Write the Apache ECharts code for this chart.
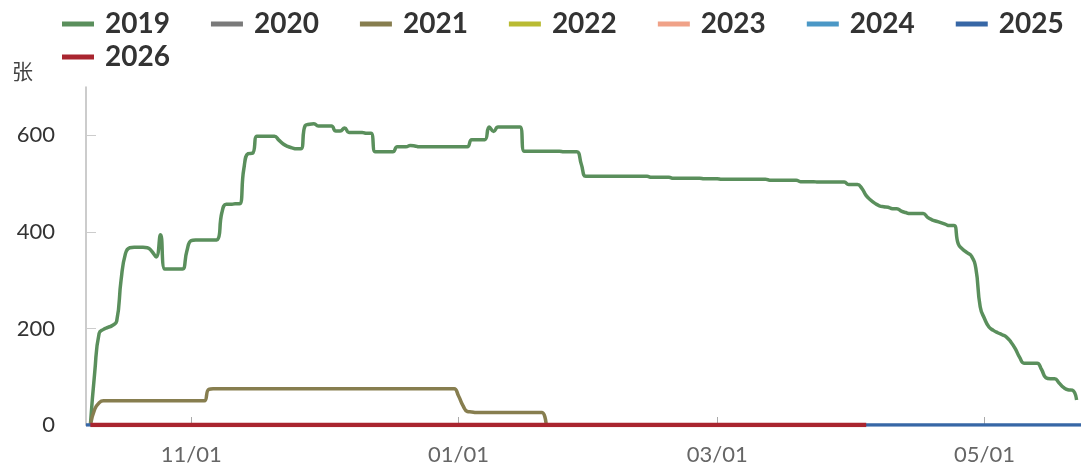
<!DOCTYPE html>
<html>
<head>
	<meta charset="utf-8">
	<title>季节图</title>
	<script type="text/javascript" src="https://cdn.jsdelivr.net/npm/echarts@6/dist/echarts.min.js"></script>
</head>
<body style="margin:0">
<div id="main" style="width: 1081px; height: 474px"></div>

<script type="text/javascript">
// x 轴：10/08 到 05/23 的每一天
var monthList = [10, 11, 12, 1, 2, 3, 4, 5];
var monthDays = [31, 30, 31, 31, 28, 31, 30, 23];
var firstDay = 8;
var tickLabels = ['11/01', '01/01', '03/01', '05/01'];

var days = [];
monthList.forEach(function (m, i) {
    for (var d = (i === 0 ? firstDay : 1); d <= monthDays[i]; d++) {
        days.push((m < 10 ? '0' + m : '' + m) + '/' + (d < 10 ? '0' + d : '' + d));
    }
});

var years = ['2019', '2020', '2021', '2022', '2023', '2024', '2025', '2026'];
var colors = ['#5a8f5c', '#7a7a7a', '#877e4f', '#b9bb33', '#f0a288', '#4b98c6', '#3767a6', '#a9252f'];

// 2019
var s2019 = [
    '-', 0, 110, 190, 198, 202, 206, 215, 300, 355, 367, 368, 368, 368, 367, 360, 348, 394, 323, 323, 323, 323, 323, 360,
    382, 383, 383, 383, 383, 383, 384, 440, 457, 457, 458, 458, 530, 562, 563, 598, 598, 598, 598, 598, 590, 582, 577, 574, 572, 572, 620, 623, 624, 619,
    619, 619, 619, 609, 609, 615, 606, 606, 606, 606, 604, 604, 566, 566, 566, 566, 566, 576, 576, 576, 579, 578, 576, 576, 576, 576, 576, 576, 576, 576, 576,
    576, 576, 576, 591, 591, 591, 591, 617, 608, 617, 617, 617, 617, 617, 617, 567, 567, 567, 567, 567, 567, 567, 567, 567, 566, 566, 566, 566, 540, 515, 515,
    515, 515, 515, 515, 515, 515, 515, 515, 515, 515, 515, 515, 515, 513, 513, 513, 513, 513, 511, 511, 511, 511, 511, 511, 511, 510, 510, 510,
    510, 509, 509, 509, 509, 509, 509, 509, 509, 509, 509, 509, 507, 507, 507, 507, 507, 507, 507, 504, 504, 504, 504, 503, 503, 503, 503, 503, 503, 503, 498,
    498, 498, 490, 475, 466, 459, 454, 452, 451, 448, 448, 443, 440, 438, 438, 438, 438, 430, 425, 422, 419, 416, 413, 413, 375, 364, 357, 350, 325, 245,
    220, 203, 196, 191, 187, 182, 172, 158, 140, 128, 128, 128, 128, 115, 98, 96, 96, 87, 78, 73, 72, 52
];

// 2021
var s2021 = [
    '-', 0, 33, 46, 50, 50, 50, 50, 50, 50, 50, 50, 50, 50, 50, 50, 50, 50, 50, 50, 50, 50, 50, 50,
    50, 50, 50, 50, 74, 75, 75, 75, 75, 75, 75, 75, 75, 75, 75, 75, 75, 75, 75, 75, 75, 75, 75, 75, 75, 75, 75, 75, 75, 75,
    75, 75, 75, 75, 75, 75, 75, 75, 75, 75, 75, 75, 75, 75, 75, 75, 75, 75, 75, 75, 75, 75, 75, 75, 75, 75, 75, 75, 75, 75, 75,
    60, 40, 28, 27, 26, 26, 26, 26, 26, 26, 26, 26, 26, 26, 26, 26, 26, 26, 26, 26, 0
];

// 2025、2026 贴着 0
var s2025 = [['10/08', 0], ['05/23', 0]];
var s2026 = [['10/09', 0], ['04/04', 0]];

var seriesData = {
    '2019': s2019, '2020': [], '2021': s2021, '2022': [],
    '2023': [], '2024': [], '2025': s2025, '2026': s2026
};
var lineWidths = {'2026': 4.5};

var myChart = echarts.init(document.getElementById('main'));

function isMonthTick(index, value) {
    return tickLabels.indexOf(value) >= 0;
}

option = {
    color: colors,
    animation: false,
    legend: {
        data: years,
        left: 62,
        top: 10,
        width: 1060,
        padding: 0,
        itemGap: 5,
        icon: 'rect',
        itemWidth: 32,
        itemHeight: 5,
        textStyle: {
            fontFamily: 'Lato',
            fontSize: 28,
            fontWeight: 'bold',
            lineHeight: 28,
            color: '#333',
            padding: [0, 36, 0, 6]
        }
    },
    grid: {
        left: 86,
        right: 0,
        top: 87,
        bottom: 49
    },
    xAxis: {
        type: 'category',
        data: days,
        boundaryGap: false,
        axisLine: {lineStyle: {color: '#bbb', width: 1.5}},
        axisTick: {inside: true, length: 8, interval: isMonthTick, lineStyle: {color: '#aaa'}},
        axisLabel: {
            interval: isMonthTick,
            margin: 19,
            fontFamily: 'Lato',
            fontSize: 22,
            color: '#666'
        }
    },
    yAxis: {
        type: 'value',
        min: 0,
        max: 700,
        interval: 200,
        name: '张',
        nameGap: 5,
        nameTextStyle: {
            fontFamily: 'Noto Sans CJK SC',
            fontSize: 21,
            color: '#444',
            align: 'right',
            padding: [0, 53, 0, 0]
        },
        splitLine: {show: false},
        axisLine: {show: true, lineStyle: {color: '#bbb', width: 1.5}},
        axisTick: {show: true, inside: true, length: 10, lineStyle: {color: '#ccc'}},
        axisLabel: {
            showMaxLabel: false,
            margin: 31,
            fontFamily: 'Lato',
            fontSize: 22,
            color: '#333'
        }
    },
    series: years.map(function (y) {
        return {
            name: y,
            type: 'line',
            smooth: true,
            symbol: 'none',
            lineStyle: {width: lineWidths[y] || 3.5},
            data: seriesData[y]
        };
    })
};

myChart.setOption(option);
</script>
</body>
</html>
